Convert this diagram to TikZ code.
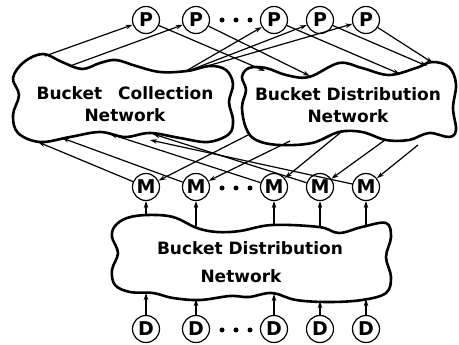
\documentclass[tikz,border=0pt]{standalone}
\usepackage{fontspec}
\setmainfont{DejaVu Sans}
\usetikzlibrary{arrows.meta}
\begin{document}
\begin{tikzpicture}[x=1pt,y=-1pt,
  unit/.style={circle,draw,line width=1.2pt,minimum size=27pt,inner sep=0pt,
    font=\fontsize{19}{19}\selectfont\bfseries},
  netlabel/.style={align=center,font=\fontsize{17}{22}\selectfont\bfseries},
  cloudline/.style={line width=2.6pt,line join=round},
  link/.style={line width=1.2pt,-{Stealth[length=7pt,width=4.5pt]}},
  dot/.style={circle,fill,inner sep=0pt,minimum size=5pt}]
\useasboundingbox (0,0) rectangle (459,345);

% the three network clouds
\draw[cloudline] plot[smooth cycle,tension=0.6] coordinates {
  (43,54) (62,62) (82,69) (100,63) (116,60) (136,66) (160,72) (187,71)
  (210,66) (226,70) (233,84) (229,102) (233,120) (229,134) (208,142)
  (180,138) (150,133) (125,137) (100,132) (70,137) (40,142) (18,133)
  (13,115) (19,95) (13,78) (24,62)};
\draw[cloudline] plot[smooth cycle,tension=0.6] coordinates {
  (249,68) (266,68) (286,75) (309,77) (339,63) (362,68) (389,75) (416,68)
  (432,62) (449,67) (456,84) (453,108) (456,130) (449,137) (429,133)
  (409,140) (386,140) (362,132) (339,132) (312,143) (279,145) (256,140)
  (246,128) (242,107) (246,90) (242,77)};
\draw[cloudline] plot[smooth cycle,tension=0.6] coordinates {
  (115,226) (127,218) (147,215) (173,217) (197,228) (217,232) (240,231)
  (272,225) (319,227) (339,233) (362,227) (386,223) (391,237) (386,257)
  (391,277) (386,293) (362,300) (329,302) (296,300) (272,293) (249,297)
  (230,296) (200,300) (173,298) (153,293) (130,292) (115,285) (112,270)
  (118,253) (112,237)};

\node[netlabel] (bcn) at (125,104) {Bucket\hspace{16pt}Collection\\Network};
\node[netlabel] (bdn) at (348,105) {Bucket Distribution\\Network};
\node[netlabel,font=\fontsize{17}{28}\selectfont\bfseries] (ldn) at (250,262)
  {Bucket Distribution\\\hspace{-18pt}Network};

% processor, memory and disk rows
\foreach \n/\x in {1/146,2/196,3/274,4/320,5/366}{
  \node[unit] (P\n) at (\x,20) {P};
  \node[unit] (M\n) at (\x,187) {M};
  \node[unit] (D\n) at (\x,329) {D};
}
\foreach \r/\y in {p/20,m/188,d/330}{
  \node[dot] (\r a) at (222,\y) {};
  \node[dot] (\r b) at (236,\y) {};
  \node[dot] (\r c) at (250,\y) {};
}

% ports on the cloud outlines
\coordinate (c1) at (45,56);
\coordinate (c2) at (70,66);
\coordinate (c3) at (186,71);
\coordinate (c4) at (188,71);
\coordinate (c5) at (190,71);
\coordinate (a1) at (265,71);
\coordinate (a2) at (310,76);
\coordinate (a3) at (400,74);
\coordinate (a4) at (427,66);
\coordinate (a5) at (433,63);
\coordinate (b1) at (38,142);
\coordinate (b2) at (62,138);
\coordinate (b3) at (110,134);
\coordinate (b4) at (153,134);
\coordinate (b5) at (150,140);
\coordinate (r1) at (250,134);
\coordinate (r2) at (290,141);
\coordinate (r3) at (340,133);
\coordinate (r4) at (385,140);
\coordinate (r5) at (418,145);

% collection network feeds the processors, processors feed distribution
\foreach \n in {1,...,5}{
  \draw[link] (c\n) -- (P\n);
  \draw[link] (P\n) -- (a\n);
  \draw[link] (M\n) -- (b\n);
  \draw[link] (r\n) -- (M\n);
}

% lower network into the memories, disks into the lower network
\coordinate (t1) at (146,216);
\coordinate (t2) at (196,226);
\coordinate (t3) at (274,225);
\coordinate (t4) at (320,227);
\coordinate (t5) at (366,226);
\coordinate (u1) at (146,293);
\coordinate (u2) at (196,299);
\coordinate (u3) at (274,294);
\coordinate (u4) at (320,301);
\coordinate (u5) at (366,299);
\foreach \n in {1,...,5}{
  \draw[link] (t\n) -- (M\n);
  \draw[link] (D\n) -- (u\n);
}
\end{tikzpicture}
\end{document}
